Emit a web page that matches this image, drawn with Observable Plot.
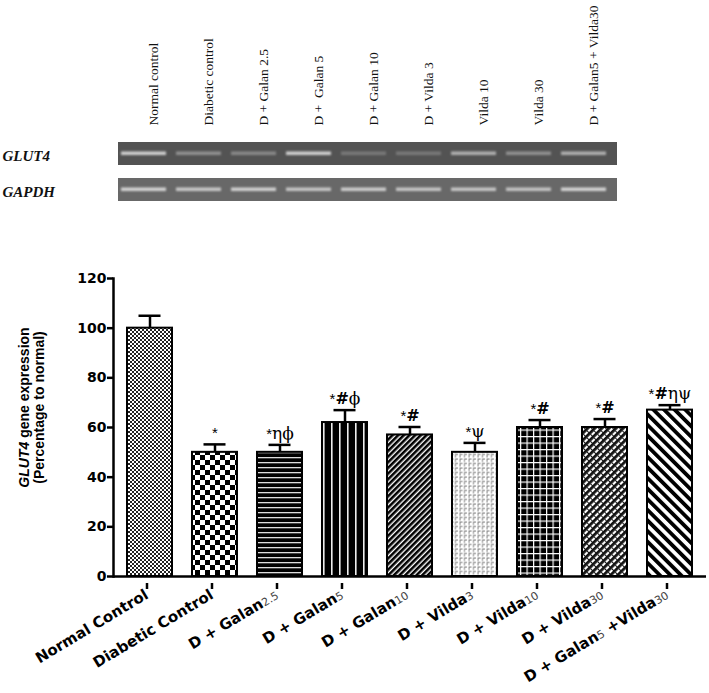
<!DOCTYPE html>
<html><head><meta charset="utf-8">
<script src="https://cdn.jsdelivr.net/npm/d3@7"></script>
<script src="https://cdn.jsdelivr.net/npm/@observablehq/plot@0.6"></script>
<style>
body{margin:0;background:#fff;width:709px;height:693px;overflow:hidden}
#gel svg,#chart svg{display:block}
</style></head><body>
<div id="gel"></div><div id="chart"></div>
<script>
// ---- gel data ----
const lanes = ["Normal control","Diabetic control","D + Galan 2.5","D +  Galan 5","D + Galan 10","D + Vilda 3","Vilda 10","Vilda 30","D + Galan5 + Vilda30"];
const gelRows = ["GLUT4","GAPDH"];
const glut4Band = [0.8,0.4,0.35,0.8,0.25,0.25,0.6,0.4,0.6];
const gapdhBand = [0.8,0.72,0.78,0.7,0.75,0.7,0.7,0.68,0.8];
// ---- chart data ----
const groups = ["Normal Control","Diabetic Control","D + Galan{2.5}","D + Galan{5}","D + Galan{10}","D + Vilda{3}","D + Vilda{10}","D + Vilda{30}","D + Galan{5} +Vilda{30}"];
const means = [100,50,50,62,57,50,60,60,67];
const sems = [5,3.2,3,5,3.2,3.8,3,3.4,2];
const sigMarks = ["","*","*ηϕ","*#ϕ","*#","*ψ","*#","*#","*#ηψ"];
const yTicks = [0,20,40,60,80,100,120];
const yTitle = ["GLUT4 gene expression","(Percentage to normal)"];

// ---------- gel ----------
const bands = lanes.flatMap((lane,i)=>[{lane,row:"GLUT4",v:glut4Band[i]},{lane,row:"GAPDH",v:gapdhBand[i]}]);
const gel = Plot.plot({
  width:709, height:215, marginLeft:118, marginRight:92, marginTop:142, marginBottom:13,
  x:{type:"band", domain:lanes, paddingInner:0.18, paddingOuter:0.1, align:0.2, axis:null},
  y:{type:"band", domain:gelRows, paddingInner:0.36, paddingOuter:0, axis:null},
  opacity:{domain:[0,1], range:[0,1]},
  style:{background:"white"},
  marks:[
    Plot.cell(["GLUT4"],{y:d=>d, fill:"#535353"}),
    Plot.cell(["GAPDH"],{y:d=>d, fill:"#686868"}),
    Plot.cell(bands.filter(d=>d.row==="GLUT4"),{x:"lane", y:"row", fill:"#f0f0f0", fillOpacity:"v", insetTop:9.5, insetBottom:10, imageFilter:"blur(1.2px)"}),
    Plot.cell(bands.filter(d=>d.row==="GAPDH"),{x:"lane", y:"row", fill:"#f0f0f0", fillOpacity:"v", insetTop:9.5, insetBottom:10, imageFilter:"blur(1.2px)"}),
    Plot.text(lanes,{x:d=>d, text:d=>d, frameAnchor:"top", rotate:-90, textAnchor:"start", dy:-17, dx:4, fontFamily:"Liberation Serif", fontSize:13.5, fill:"#111"}),
    Plot.text(gelRows,{y:d=>d, text:d=>d, frameAnchor:"left", textAnchor:"start", dx:-116, dy:2, fontFamily:"Liberation Serif", fontWeight:"bold", fontStyle:"italic", fontSize:15, fill:"#111"})
  ]
});
document.getElementById("gel").appendChild(gel);

// ---------- chart ----------
const rows = groups.map((g,i)=>({g, m:means[i], s:sems[i], top:means[i]+sems[i], mark:sigMarks[i]}));
const barMarks = rows.map((r,i)=>Plot.barY([r],{x:"g", y:"m", fill:`url(#pat${i})`, stroke:"black", strokeWidth:2}));
const chart = Plot.plot({
  width:709, height:478, marginLeft:113, marginRight:3, marginTop:63, marginBottom:117,
  x:{type:"band", domain:groups, paddingInner:0.312, paddingOuter:0.19},
  y:{domain:[0,120]},
  style:{background:"white", fontFamily:"Liberation Sans", fontSize:"13px", color:"black"},
  marks:[
    ...barMarks,
    Plot.ruleX(rows,{x:"g", y1:"m", y2:"top", strokeWidth:2.5}),
    Plot.tickY(rows,{x:"g", y:"top", strokeWidth:2.5, insetLeft:11.5, insetRight:11.5}),
    Plot.text(rows,{x:"g", y:"top", text:"mark", lineAnchor:"bottom", dy:-6, fontSize:16}),
    Plot.axisY({ticks:yTicks, tickSize:6, tickPadding:1, fontSize:14, fontWeight:"bold", fontFamily:"DejaVu Sans", strokeWidth:2.5, label:null}),
    Plot.axisX({tickSize:6, tickRotate:-31, tickPadding:4, dx:-3, dy:7, tickFormat:d=>d.replace(/[{}]/g,""), fontSize:15, fontWeight:"bold", fontFamily:"DejaVu Sans", strokeWidth:2.5, label:null}),
    Plot.ruleY([0],{strokeWidth:2.5}),
    Plot.frame({anchor:"left", strokeWidth:2.5}),
    Plot.text([yTitle.join("\n")],{frameAnchor:"left", textAnchor:"middle", rotate:-90, dx:-82, dy:-20, fontSize:14, fontWeight:"bold", fontFamily:"Liberation Sans", lineHeight:1.05})
  ]
});
document.getElementById("chart").appendChild(chart);

// ---------- patterns ----------
const svg = d3.select(chart);
const defs = svg.insert("defs", ":first-child");
function pat(id, w, h, bg, tf){
  const p = defs.append("pattern").attr("id",id).attr("patternUnits","userSpaceOnUse").attr("width",w).attr("height",h);
  if (tf) p.attr("patternTransform", tf);
  p.append("rect").attr("width",w).attr("height",h).attr("fill",bg);
  return p;
}
let p;
p = pat("pat0",4,4,"#fff"); p.append("rect").attr("width",2).attr("height",2).attr("fill","#222"); p.append("rect").attr("x",2).attr("y",2).attr("width",2).attr("height",2).attr("fill","#222");
p = pat("pat1",10,10,"#fff"); p.append("rect").attr("width",5).attr("height",5).attr("fill","#000"); p.append("rect").attr("x",5).attr("y",5).attr("width",5).attr("height",5).attr("fill","#000");
p = pat("pat2",10,5,"#000"); p.append("rect").attr("y",2).attr("width",10).attr("height",1.3).attr("fill","#ddd");
p = pat("pat3",8,10,"#000"); p.append("rect").attr("x",3).attr("width",1.6).attr("height",10).attr("fill","#eee");
p = pat("pat4",4,4,"#fff","rotate(45)"); p.append("rect").attr("width",2.6).attr("height",4).attr("fill","#000");
p = pat("pat5",4.5,4.5,"#fff"); p.append("path").attr("d","M1 4V1H3.5").attr("fill","none").attr("stroke","#888").attr("stroke-width",1);
p = pat("pat6",6.5,6.5,"#000"); p.append("rect").attr("width",6.5).attr("height",1.2).attr("fill","#fff"); p.append("rect").attr("width",1.2).attr("height",6.5).attr("fill","#fff");
p = pat("pat7",5,5,"#fff","rotate(45)"); p.append("rect").attr("width",2.8).attr("height",5).attr("fill","#111"); p.append("rect").attr("x",2.8).attr("y",2).attr("width",2.2).attr("height",1).attr("fill","#111");
p = pat("pat8",7.5,10,"#fff","rotate(-45)"); p.append("rect").attr("width",3.8).attr("height",10).attr("fill","#000");

// ---------- rich text: subscripts in x tick labels ----------
svg.selectAll('g[aria-label="x-axis tick label"] text').each(function(_, i){
  const raw = groups[i];
  const el = d3.select(this);
  el.text(null);
  raw.split(/(\{[^}]*\})/).filter(s=>s.length).forEach(s=>{
    if (s.startsWith("{")) el.append("tspan").text(s.slice(1,-1)).attr("font-size",11).attr("font-weight","normal").attr("fill","#444");
    else el.append("tspan").text(s);
  });
});
// italic GLUT4 in y title
svg.selectAll("tspan").each(function(){
  if (this.textContent === yTitle[0]) {
    const t = d3.select(this); t.text(null);
    t.append("tspan").attr("font-style","italic").text("GLUT4");
    t.append("tspan").text(yTitle[0].slice(5));
  }
});
// significance symbols
svg.selectAll("text").each(function(){
  const s = this.textContent;
  if (s && /^[*#ηϕψ]+$/.test(s) && this.childElementCount === 0) {
    const t = d3.select(this); t.text(null);
    for (const ch of s) {
      const ts = t.append("tspan").text(ch);
      if (ch === "*") ts.attr("font-size",15);
      else if (ch === "#") ts.attr("font-weight","bold").attr("font-family","DejaVu Sans").attr("font-size",16);
      else ts.attr("font-family","DejaVu Serif").attr("font-size",17);
    }
  }
});
</script></body></html>
